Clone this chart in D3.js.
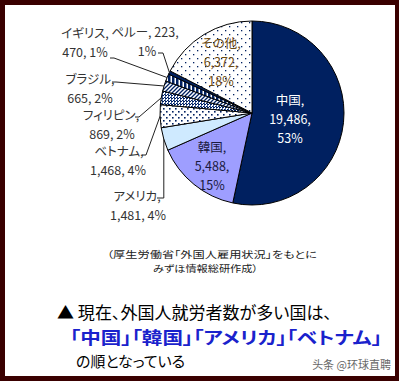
<!DOCTYPE html>
<html><head><meta charset="utf-8">
<script src="https://cdnjs.cloudflare.com/ajax/libs/d3/7.8.5/d3.min.js"></script>
<style>
html,body{margin:0;padding:0;background:#3a0000;}
svg{display:block;}
text{font-feature-settings:"palt" 1;}
</style></head>
<body>
<svg id="chart" width="399" height="381"></svg>
<script>
const countries = ["中国","韓国","アメリカ","ベトナム","フィリピン","ブラジル","イギリス","ペルー","その他"];
const workers = [19486,5488,1481,1468,869,665,470,223,6372];
const percents = ["53%","15%","4%","4%","2%","2%","1%","1%","18%"];
const sourceLines = ["（厚生労働省「外国人雇用状況」をもとに","みずほ情報総研作成）"];
const headline = ["▲ 現在、外国人就労者数が多い国は、","「中国」「韓国」「アメリカ」「ベトナム」","の順となっている"];
const watermark = "头条 @环球直聘";

const fmt = d3.format(",");
const svg = d3.select("#chart");
svg.append("rect").attr("x",5).attr("y",5).attr("width",390).attr("height",371).attr("fill","#fff");

const defs = svg.append("defs");
const navy = "#002060";
let p = defs.append("pattern").attr("id","pDots").attr("patternUnits","userSpaceOnUse").attr("width",6).attr("height",6);
p.append("rect").attr("width",6).attr("height",6).attr("fill","#fff");
p.append("rect").attr("x",1).attr("y",1).attr("width",1.6).attr("height",1.6).attr("fill",navy);
p.append("rect").attr("x",4).attr("y",4).attr("width",1.6).attr("height",1.6).attr("fill",navy);
p = defs.append("pattern").attr("id","pSparse").attr("patternUnits","userSpaceOnUse").attr("width",8).attr("height",8);
p.append("rect").attr("width",8).attr("height",8).attr("fill","#fff");
p.append("rect").attr("x",1).attr("y",1).attr("width",1.3).attr("height",1.3).attr("fill",navy);
p.append("rect").attr("x",5).attr("y",5).attr("width",1.3).attr("height",1.3).attr("fill",navy);
p = defs.append("pattern").attr("id","pCross").attr("patternUnits","userSpaceOnUse").attr("width",3).attr("height",3);
p.append("rect").attr("width",3).attr("height",3).attr("fill","#fff");
p.append("rect").attr("width",2).attr("height",1).attr("fill",navy);
p.append("rect").attr("y",1).attr("width",1).attr("height",2).attr("fill","#3a5a9a");
p.append("rect").attr("x",2).attr("y",2).attr("width",1).attr("height",1).attr("fill",navy);
p = defs.append("pattern").attr("id","pDiag").attr("patternUnits","userSpaceOnUse").attr("width",4).attr("height",4);
p.append("rect").attr("width",4).attr("height",4).attr("fill","#fff");
p.append("path").attr("d","M-1,1 L1,-1 M0,4 L4,0 M3,5 L5,3").attr("stroke",navy).attr("stroke-width",1.3);
p = defs.append("pattern").attr("id","pVert").attr("patternUnits","userSpaceOnUse").attr("width",4).attr("height",4);
p.append("rect").attr("width",4).attr("height",4).attr("fill",navy);
p.append("rect").attr("x",2.5).attr("width",1.5).attr("height",4).attr("fill","#fff");

const fills = [navy,"#9e9eff","#cfeaff","url(#pDots)","url(#pCross)","url(#pDiag)","url(#pVert)",navy,"url(#pSparse)"];

const cx = 252, cy = 113, r = 92;
const pie = d3.pie().sort(null).value(d=>d)(workers);
const arc = d3.arc().innerRadius(0).outerRadius(r);
const g = svg.append("g").attr("transform",`translate(${cx},${cy})`);
g.selectAll("path.slice").data(pie).join("path").attr("class","slice")
  .attr("d",arc).attr("fill",(d,i)=>fills[i]).attr("stroke","#000").attr("stroke-width",1);

const font = "'Noto Sans CJK JP','Noto Sans',sans-serif";
function lines(x,y,arr,opts){
  const t = svg.append("text").attr("x",x).attr("y",y).attr("text-anchor",opts.anchor||"middle")
    .attr("font-family",font).attr("font-size",opts.size||12.5).attr("fill",opts.color||"#333")
    .attr("font-weight",opts.weight||"normal");
  arr.forEach((s,k)=>t.append("tspan").attr("x",x).attr("dy",k===0?0:(opts.lh||19)).text(s));
}
const lab = i => [countries[i]+",", fmt(workers[i])+",", percents[i]];

lines(290,105,lab(0),{color:"#fff"});
lines(212,152,lab(1),{color:"#1a1a40"});
lines(221,48,lab(8),{color:"#6b4a10"});

const outside = [
  {i:7, l1:countries[7]+", " + workers[7] + ",", l2:percents[7], x1:145, x2:147, y:37, ax:158, ay:53, ex:163},
  {i:6, l1:countries[6]+",", l2:workers[6]+", "+percents[6], x1:85, x2:85, y:38, ax:110, ay:58, ex:114},
  {i:5, l1:countries[5]+",", l2:workers[5]+", "+percents[5], x1:90, x2:90, y:84, ax:112, ay:82, ex:116},
  {i:4, l1:countries[4]+",", l2:workers[4]+", "+percents[4], x1:111, x2:112, y:120, ax:135, ay:117, ex:139},
  {i:3, l1:countries[3]+",", l2:fmt(workers[3])+", "+percents[3], x1:119, x2:118, y:156, ax:142, ay:155, ex:146},
  {i:2, l1:countries[2]+",", l2:fmt(workers[2])+", "+percents[2], x1:137, x2:138, y:201, ax:157, ay:198, ex:null}
];
const outer = d3.arc().innerRadius(r).outerRadius(r);
outside.forEach(o=>{
  svg.append("text").attr("x",o.x1).attr("y",o.y).attr("text-anchor","middle").attr("font-family",font)
    .attr("font-size",12.5).attr("fill","#333").text(o.l1);
  svg.append("text").attr("x",o.x2).attr("y",o.y+19).attr("text-anchor","middle").attr("font-family",font)
    .attr("font-size",12.5).attr("fill","#333").text(o.l2);
  const c = outer.centroid(pie[o.i]);
  const px = cx + c[0], py = cy + c[1];
  const ex = o.ex===null ? px : o.ex;
  svg.append("path").attr("d",`M${o.ax},${o.ay}L${ex},${o.ay}L${px},${py}`)
    .attr("fill","none").attr("stroke","#222").attr("stroke-width",1);
});

// source
svg.append("text").attr("x",107).attr("y",258).attr("font-family",font).attr("font-size",9.5).attr("fill","#222")
  .attr("textLength",210).attr("lengthAdjust","spacingAndGlyphs").text(sourceLines[0]);
svg.append("text").attr("x",153).attr("y",272).attr("font-family",font).attr("font-size",9.5).attr("fill","#222")
  .attr("textLength",105).attr("lengthAdjust","spacingAndGlyphs").text(sourceLines[1]);

// headline
svg.append("text").attr("x",57).attr("y",319).attr("font-family",font).attr("font-size",16.5).attr("fill","#000")
  .attr("textLength",275).attr("lengthAdjust","spacingAndGlyphs").text(headline[0]);
svg.append("text").attr("x",70).attr("y",344).attr("font-family",font).attr("font-size",17).attr("font-weight","bold").attr("fill","#1a22cc")
  .attr("textLength",312).attr("lengthAdjust","spacingAndGlyphs").text(headline[1]);
svg.append("text").attr("x",76).attr("y",367).attr("font-family",font).attr("font-size",15).attr("fill","#000")
  .attr("textLength",109).attr("lengthAdjust","spacingAndGlyphs").text(headline[2]);
svg.append("text").attr("x",391).attr("y",369).attr("text-anchor","end").attr("font-family","'Noto Sans CJK SC',sans-serif").attr("font-size",11).attr("fill","#666").text(watermark);
</script>
</body></html>
